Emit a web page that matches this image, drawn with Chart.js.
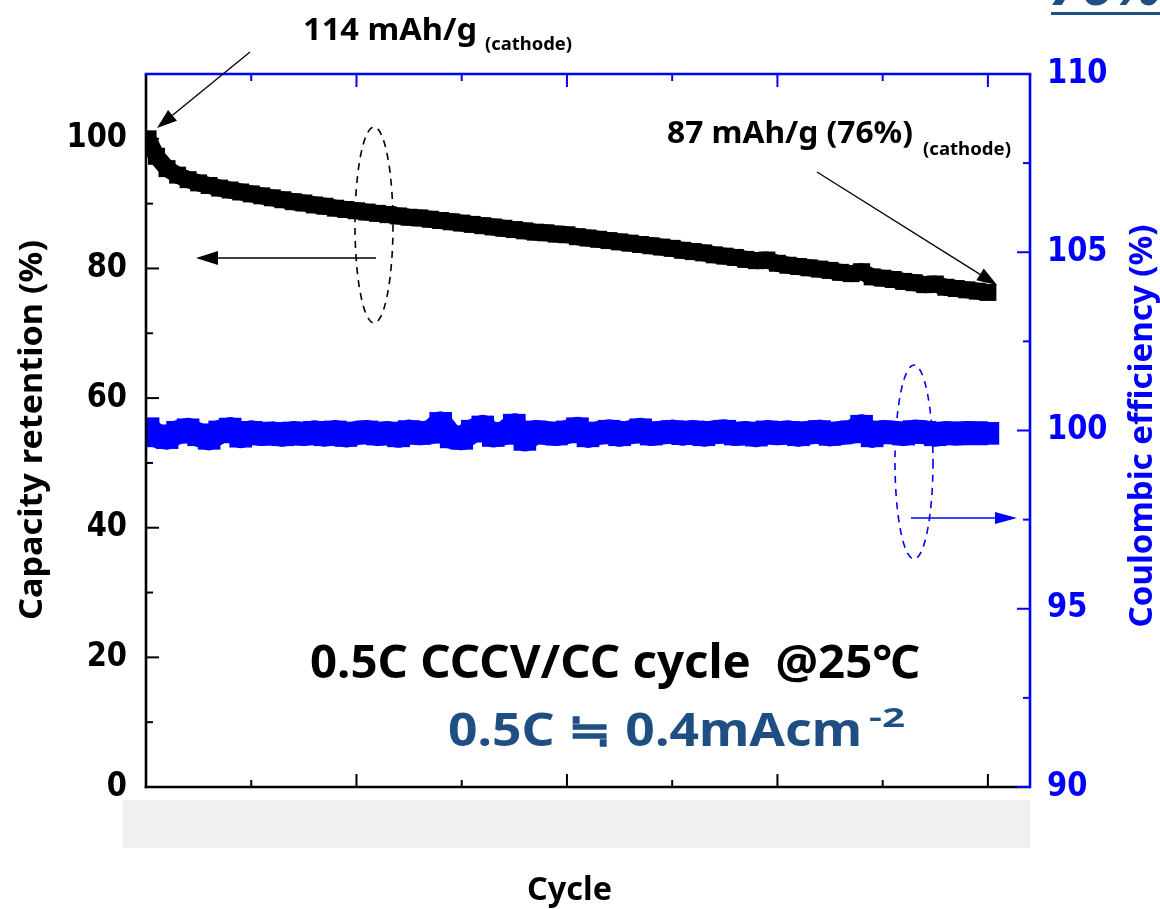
<!DOCTYPE html>
<html>
<head>
<meta charset="utf-8">
<script src="https://cdn.jsdelivr.net/npm/chart.js@4/dist/chart.umd.min.js"></script>
<style>
  html, body { margin: 0; padding: 0; background: #fff; }
  #wrap { width: 1160px; height: 909px; }
</style>
</head>
<body>
<div id="wrap"><canvas id="myChart" width="1160" height="909"></canvas></div>
<script>
// cycle number of each plotted point
var cycles = [1, 5, 10, 15, 20, 25, 30, 35, 40, 45, 50, 55, 60, 65, 70, 75, 80, 85, 90, 95,
  100, 105, 110, 115, 120, 125, 130, 135, 140, 145, 150, 155, 160, 165, 170, 175, 180, 185, 190, 195,
  200, 205, 210, 215, 220, 225, 230, 235, 240, 245, 250, 255, 260, 265, 270, 275, 280, 285, 290, 295,
  300, 305, 310, 315, 320, 325, 330, 335, 340, 345, 350, 355, 360, 365, 370, 375, 380, 385, 390, 395, 400];

// capacity retention (%) - left axis
var retention = [100.0, 97.3, 95.4, 94.4, 93.7, 93.2, 92.8, 92.4, 92.1, 91.8, 91.5, 91.2, 90.9, 90.6, 90.3, 90.1, 89.8, 89.6, 89.3, 89.1,
  88.9, 88.7, 88.5, 88.3, 88.1, 87.9, 87.8, 87.6, 87.4, 87.2, 87.0, 86.8, 86.6, 86.4, 86.2, 86.0, 85.8, 85.6, 85.5, 85.3,
  85.2, 84.9, 84.7, 84.5, 84.3, 84.1, 83.9, 83.7, 83.5, 83.3, 83.1, 82.8, 82.6, 82.4, 82.1, 81.9, 81.7, 81.4, 81.2, 81.3,
  80.8, 80.5, 80.3, 80.1, 79.9, 79.7, 79.4, 79.2, 79.5, 78.7, 78.5, 78.3, 78.0, 77.8, 77.5, 77.6, 77.1, 76.9, 76.7, 76.5, 76.3];

// coulombic efficiency (%) - right axis
var coulombic = [100.05, 99.85, 99.80, 99.95, 100.02, 99.88, 99.78, 99.96, 100.04, 99.84, 99.95, 99.90, 99.92, 99.88, 99.93, 99.90, 99.95, 99.88, 99.96, 99.86,
  99.93, 99.96, 99.90, 99.93, 99.85, 99.97, 99.92, 99.95, 100.20, 99.82, 99.78, 99.98, 100.10, 99.86, 99.92, 100.15, 99.75, 99.96, 99.93, 99.90,
  99.96, 100.05, 99.85, 99.93, 99.98, 99.88, 99.95, 100.02, 99.90, 99.94, 99.97, 99.91, 99.96, 99.88, 99.95, 99.98, 99.90, 99.93, 99.87, 99.96,
  99.92, 99.95, 99.88, 99.94, 99.97, 99.89, 99.93, 99.96, 100.12, 99.85, 99.96, 99.94, 99.90, 99.97, 99.95, 99.88, 99.93, 99.91, 99.93, 99.92, 99.92];

var leftTicks = [0, 20, 40, 60, 80, 100];
var leftMinor = [10, 30, 50, 70, 90];
var rightTicks = [90, 95, 100, 105, 110];
var rightMinor = [92.5, 97.5, 102.5, 107.5];
var xMajor = [100, 200, 300, 400];
var xMinor = [50, 150, 250, 350];

var BLUE = '#0000ff';
var NAVY = '#1f4e82';

function line(ctx, x1, y1, x2, y2) {
  ctx.beginPath(); ctx.moveTo(x1, y1); ctx.lineTo(x2, y2); ctx.stroke();
}

function arrow(ctx, x1, y1, x2, y2, color, head, half) {
  var ang = Math.atan2(y2 - y1, x2 - x1);
  var bx = x2 - head * Math.cos(ang), by = y2 - head * Math.sin(ang);
  ctx.strokeStyle = color; ctx.fillStyle = color; ctx.lineWidth = 1.3;
  line(ctx, x1, y1, bx, by);
  ctx.beginPath();
  ctx.moveTo(x2, y2);
  ctx.lineTo(bx + half * Math.sin(ang), by - half * Math.cos(ang));
  ctx.lineTo(bx - half * Math.sin(ang), by + half * Math.cos(ang));
  ctx.closePath(); ctx.fill();
}

function dashedEllipse(ctx, cx, cy, rx, ry, color) {
  ctx.save();
  ctx.strokeStyle = color; ctx.lineWidth = 1.6;
  ctx.setLineDash([7, 6]);
  ctx.beginPath(); ctx.ellipse(cx, cy, rx, ry, 0, 0, Math.PI * 2); ctx.stroke();
  ctx.restore();
}

// draws text stretched/compressed to exactly width w (left, baseline)
function fitText(ctx, s, x, y, font, color, w) {
  ctx.save();
  ctx.font = font;
  var m = ctx.measureText(s).width;
  ctx.translate(x, y);
  ctx.scale(w / m, 1);
  ctx.fillStyle = color;
  ctx.textAlign = 'left';
  ctx.textBaseline = 'alphabetic';
  ctx.fillText(s, 0, 0);
  ctx.restore();
}

function vText(ctx, s, cx, cy, font, color, w) {
  ctx.save();
  ctx.translate(cx, cy);
  ctx.rotate(-Math.PI / 2);
  ctx.font = font;
  var m = ctx.measureText(s).width;
  ctx.scale(w / m, 1);
  ctx.fillStyle = color;
  ctx.textAlign = 'center';
  ctx.textBaseline = 'middle';
  ctx.fillText(s, 0, 0);
  ctx.restore();
}

// tick label, a little taller than the plain font
function tickLabel(ctx, s, x, y, align, color) {
  ctx.save();
  ctx.translate(x, y);
  ctx.scale(1, 1.15);
  ctx.font = 'bold 29px "DejaVu Sans"';
  ctx.fillStyle = color;
  ctx.textAlign = align;
  ctx.textBaseline = 'middle';
  ctx.fillText(s, 0, 0);
  ctx.restore();
}

var framePlugin = {
  id: 'frame',
  beforeDraw: function (chart) {
    var ctx = chart.ctx;
    ctx.save();
    ctx.fillStyle = '#ffffff';
    ctx.fillRect(0, 0, chart.width, chart.height);
    ctx.fillStyle = '#f0f0f0';
    ctx.fillRect(123, 800, 907, 48);
    ctx.restore();
  },
  afterDraw: function (chart) {
    var ctx = chart.ctx, a = chart.chartArea;
    var sx = chart.scales.x, sy = chart.scales.y, sy1 = chart.scales.y1;
    ctx.save();
    ctx.lineCap = 'butt';
    // frame
    ctx.lineWidth = 2.6;
    ctx.strokeStyle = '#000';
    line(ctx, a.left, a.top, a.left, a.bottom + 1.3);
    line(ctx, a.left - 1.3, a.bottom, a.right, a.bottom);
    ctx.strokeStyle = BLUE;
    line(ctx, a.left - 1.3, a.top, a.right + 1.3, a.top);
    line(ctx, a.right, a.top, a.right, a.bottom + 1.3);

    // inward ticks
    ctx.lineWidth = 2;
    xMajor.concat(xMinor).forEach(function (v) {
      var px = sx.getPixelForValue(v);
      var len = xMajor.indexOf(v) >= 0 ? 13 : 7;
      ctx.strokeStyle = '#000'; line(ctx, px, a.bottom, px, a.bottom - len);
      ctx.strokeStyle = BLUE; line(ctx, px, a.top, px, a.top + len);
    });
    ctx.strokeStyle = '#000';
    leftTicks.concat(leftMinor).forEach(function (v) {
      var py = sy.getPixelForValue(v);
      var len = leftTicks.indexOf(v) >= 0 ? 13 : 7;
      line(ctx, a.left, py, a.left + len, py);
    });
    ctx.strokeStyle = BLUE;
    rightTicks.concat(rightMinor).forEach(function (v) {
      var py = sy1.getPixelForValue(v);
      var len = rightTicks.indexOf(v) >= 0 ? 13 : 7;
      line(ctx, a.right, py, a.right - len, py);
    });

    // tick labels
    leftTicks.forEach(function (v) {
      tickLabel(ctx, String(v), a.left - 19, sy.getPixelForValue(v), 'right', '#000');
    });
    rightTicks.forEach(function (v) {
      tickLabel(ctx, String(v), a.right + 17, sy1.getPixelForValue(v), 'left', BLUE);
    });

    // axis titles
    vText(ctx, 'Capacity retention (%)', 33, 430, 'bold 32px "Noto Sans"', '#000', 380);
    vText(ctx, 'Coulombic efficiency (%)', 1143, 426, 'bold 32px "Noto Sans"', BLUE, 403);
    fitText(ctx, 'Cycle', 527, 900, 'bold 33px "Noto Sans"', '#000', 85);

    // annotations
    fitText(ctx, '114 mAh/g', 303, 40, 'bold 31px "Noto Sans"', '#000', 174);
    fitText(ctx, '(cathode)', 485, 50, 'bold 17px "Noto Sans"', '#000', 87);
    fitText(ctx, '87 mAh/g (76%)', 667, 143, 'bold 31px "Noto Sans"', '#000', 246);
    fitText(ctx, '(cathode)', 923, 155, 'bold 17px "Noto Sans"', '#000', 88);
    fitText(ctx, '0.5C CCCV/CC cycle  @25\u2103', 310, 678, 'bold 46px "Noto Sans"', '#000', 610);
    fitText(ctx, '0.5C \u2252 0.4mAcm', 448, 746, 'bold 46px "Noto Sans"', NAVY, 414);
    fitText(ctx, '-2', 869, 727, 'bold 26px "Noto Sans"', NAVY, 36);

    // cut-off heading at the top right
    fitText(ctx, '76%', 1050, 5, 'italic bold 56px "Noto Sans"', NAVY, 112);
    ctx.fillStyle = NAVY;
    ctx.fillRect(1051, 12, 109, 3);

    arrow(ctx, 250, 52, 157, 128, '#000', 20, 7);
    arrow(ctx, 817, 172, 997, 285, '#000', 20, 7);
    arrow(ctx, 376, 258, 196, 258, '#000', 22, 7);
    arrow(ctx, 911, 518, 1017, 518, BLUE, 22, 6);
    dashedEllipse(ctx, 374, 225, 19, 98, '#000');
    dashedEllipse(ctx, 914, 462, 19, 97, BLUE);
    ctx.restore();
  }
};

var retPoints = cycles.map(function (c, i) { return { x: c, y: retention[i] }; });
var cePoints = cycles.map(function (c, i) { return { x: c, y: coulombic[i] }; });

var ctx = document.getElementById('myChart').getContext('2d');
var myChart = new Chart(ctx, {
  type: 'line',
  data: {
    datasets: [{
      label: 'Coulombic efficiency',
      data: cePoints,
      yAxisID: 'y1',
      borderColor: BLUE,
      borderWidth: 24,
      borderJoinStyle: 'round',
      borderCapStyle: 'butt',
      tension: 0,
      pointStyle: 'rect',
      pointRadius: 16,
      pointBackgroundColor: BLUE,
      pointBorderWidth: 0
    }, {
      label: 'Capacity retention',
      data: retPoints,
      yAxisID: 'y',
      borderColor: '#000',
      borderWidth: 17,
      borderJoinStyle: 'round',
      borderCapStyle: 'butt',
      tension: 0,
      pointStyle: 'rect',
      pointRadius: 12,
      pointBackgroundColor: '#000',
      pointBorderWidth: 0
    }]
  },
  options: {
    responsive: false,
    animation: false,
    devicePixelRatio: 1,
    layout: { padding: { top: 74, left: 0, right: 0, bottom: 0 } },
    plugins: { legend: { display: false }, tooltip: { enabled: false } },
    scales: {
      x: {
        type: 'linear', min: 0, max: 420,
        ticks: { display: false },
        grid: { display: false, drawTicks: false },
        border: { display: false },
        afterFit: function (s) { s.height = 122; }
      },
      y: {
        position: 'left', min: 0, max: 110,
        afterBuildTicks: function (s) { s.ticks = leftTicks.map(function (v) { return { value: v }; }); },
        ticks: { display: false },
        grid: { display: false, drawTicks: false },
        border: { display: false },
        afterFit: function (s) { s.width = 146; }
      },
      y1: {
        position: 'right', min: 90, max: 110,
        afterBuildTicks: function (s) { s.ticks = rightTicks.map(function (v) { return { value: v }; }); },
        ticks: { display: false },
        grid: { display: false, drawTicks: false },
        border: { display: false },
        afterFit: function (s) { s.width = 130; }
      }
    }
  },
  plugins: [framePlugin]
});
</script>
</body>
</html>
